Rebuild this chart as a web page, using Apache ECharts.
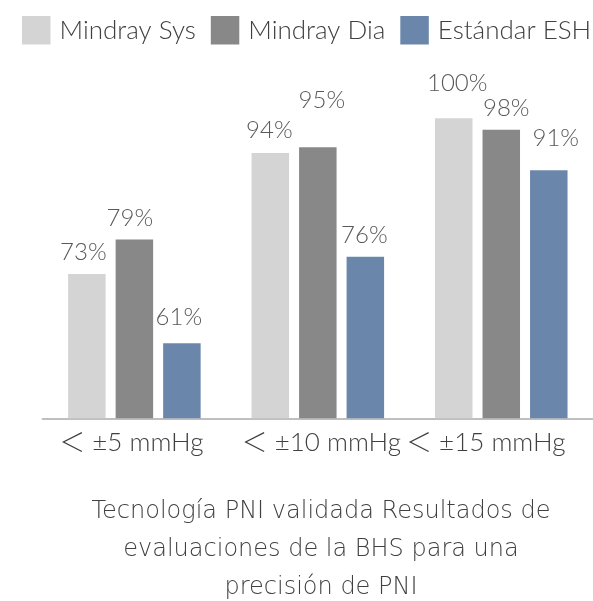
<!DOCTYPE html>
<html lang="es">
<head>
  <meta charset="UTF-8">
  <title>BHS PNI</title>
  <style>
    html, body { margin: 0; padding: 0; background: #fff; }
  </style>
</head>
<body>
  <div id="main" style="width: 593px;height:601px;"></div>

  <script src="https://cdn.jsdelivr.net/npm/echarts@6/dist/echarts.min.js"></script>
  <script>
    const categories = ['＜ ±5 mmHg', '＜ ±10 mmHg', '＜ ±15 mmHg'];
    const seriesNames = ['Mindray Sys', 'Mindray Dia', 'Estándar ESH'];
    const sysValues = [73, 94, 100];
    const diaValues = [79, 95, 98];
    const eshValues = [61, 76, 91];
    const colors = ['#d4d4d4', '#888888', '#6a87ab'];

    // label nudges, as placed by hand in the original
    const sysLabelShift = [[-3.5, 0], [-1, -0.6], [3.5, -12.6]];
    const diaLabelShift = [[-4.5, 0.5], [4, -25], [5, 0.9]];
    const eshLabelShift = [[-3, -4.3], [-1, 0.5], [7, -9.5]];
    const xLabelShift = [-3, 3.5, -15.5];

    const myChart = echarts.init(document.getElementById('main'));

    const labelStyle = {
      show: true,
      position: 'top',
      distance: 10,
      fontFamily: 'Lato',
      fontWeight: 300,
      fontSize: 24,
      color: '#595959',
      formatter: '{c}%'
    };

    const makeSeries = (name, values, shifts, i) => ({
      name: name,
      type: 'bar',
      data: values.map((v, j) => ({ value: v, label: { offset: shifts[j] } })),
      barWidth: 37.5,
      barGap: '26.7%',
      itemStyle: { color: colors[i] },
      label: labelStyle
    });

    const xData = categories.map((c, i) => {
      const s = xLabelShift[i];
      return {
        value: c,
        textStyle: { padding: s > 0 ? [0, 0, 0, 2 * s] : [0, -2 * s, 0, 0] }
      };
    });

    const options = {
      animation: false,
      title: {
        text: 'Tecnología PNI validada Resultados de\nevaluaciones de la BHS para una\nprecisión de PNI',
        left: 316,
        top: 488,
        textAlign: 'center',
        textStyle: {
          fontFamily: 'DejaVu Sans',
          fontWeight: 300,
          fontSize: 24,
          lineHeight: 38,
          color: '#404040',
          align: 'center'
        }
      },
      legend: {
        data: seriesNames,
        left: 22,
        top: 16,
        padding: 0,
        width: 580,
        itemWidth: 28.5,
        itemHeight: 28.5,
        itemGap: 15,
        icon: 'rect',
        textStyle: {
          fontFamily: 'Lato',
          fontWeight: 300,
          fontSize: 26,
          color: '#404040',
          padding: [0, 0, 0, 4]
        }
      },
      grid: {
        left: 42.65,
        right: -7,
        top: 118.3,
        bottom: 182.7
      },
      xAxis: {
        type: 'category',
        data: xData,
        axisTick: { show: false },
        axisLine: { lineStyle: { color: '#bfbfbf', width: 2 } },
        axisLabel: {
          interval: 0,
          margin: 11,
          fontFamily: 'Lato',
          fontWeight: 300,
          fontSize: 26,
          color: '#404040',
          formatter: function (v) {
            return '{lt|' + v.charAt(0) + '}' + v.slice(1);
          },
          rich: {
            lt: {
              fontFamily: 'Noto Sans CJK JP',
              fontWeight: 300,
              fontSize: 26,
              color: '#404040'
            }
          }
        }
      },
      yAxis: {
        type: 'value',
        min: 48,
        max: 100,
        show: false,
        splitLine: { show: false }
      },
      series: [
        makeSeries(seriesNames[0], sysValues, sysLabelShift, 0),
        makeSeries(seriesNames[1], diaValues, diaLabelShift, 1),
        makeSeries(seriesNames[2], eshValues, eshLabelShift, 2)
      ]
    };

    myChart.setOption(options);
  </script>
</body>
</html>
